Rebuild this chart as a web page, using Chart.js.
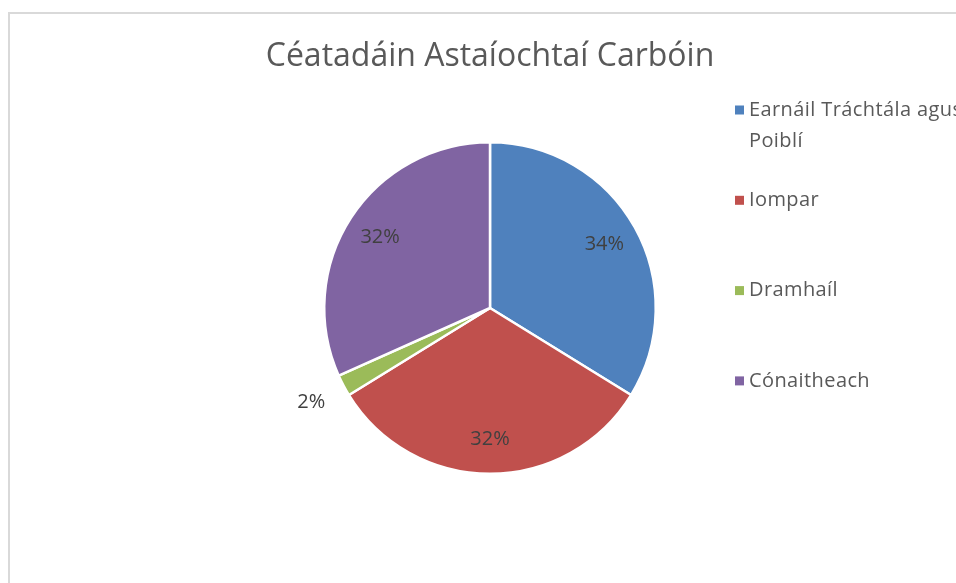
<!DOCTYPE html>
<html>
<head>
<meta charset="utf-8">
<script src="https://cdn.jsdelivr.net/npm/chart.js@4"></script>
<style>
  html, body { margin: 0; padding: 0; background: #fff; overflow: hidden; }
  #wrap { position: relative; width: 956px; height: 583px; }
  #frame { position: absolute; left: 8px; top: 12px; width: 960px; height: 600px;
           border-top: 2px solid #d9d9d9; border-left: 2px solid #d9d9d9; }
  canvas { position: absolute; left: 0; top: 0; }
</style>
</head>
<body>
<div id="wrap">
  <div id="frame"></div>
  <canvas id="myChart" width="956" height="583"></canvas>
</div>
<script>
var chartTitle = 'Céatadáin Astaíochtaí Carbóin';
var categories = ['Earnáil Tráchtála agus Poiblí', 'Iompar', 'Dramhaíl', 'Cónaitheach'];
var shares = [33.8, 32.4, 2.1, 31.7];
var colours = ['#4F81BD', '#C0504D', '#9BBB59', '#8064A2'];

// percent labels on the slices (small ones go outside)
var pctLabels = {
  id: 'pctLabels',
  afterDatasetsDraw: function (chart) {
    var ctx = chart.ctx;
    var meta = chart.getDatasetMeta(0);
    var total = shares.reduce(function (a, b) { return a + b; }, 0);
    ctx.save();
    ctx.font = '20px "Open Sans"';
    ctx.fillStyle = '#404040';
    ctx.textAlign = 'center';
    ctx.textBaseline = 'middle';
    meta.data.forEach(function (arc, i) {
      var p = arc.getProps(['x', 'y', 'startAngle', 'endAngle', 'outerRadius'], true);
      var mid = (p.startAngle + p.endAngle) / 2;
      var pct = shares[i] / total * 100;
      var r = pct < 5 ? p.outerRadius * 1.22 : p.outerRadius * 0.79;
      ctx.fillText(Math.round(pct) + '%', p.x + Math.cos(mid) * r, p.y + Math.sin(mid) * r);
    });
    ctx.restore();
  }
};

// title drawn by hand so it is not squeezed to the pie's width
var topTitle = {
  id: 'topTitle',
  afterDraw: function (chart) {
    var ctx = chart.ctx;
    ctx.save();
    ctx.font = '32px "Open Sans"';
    ctx.fillStyle = '#595959';
    ctx.textAlign = 'center';
    ctx.textBaseline = 'middle';
    ctx.fillText(chartTitle, 490, 57);
    ctx.restore();
  }
};

// legend on the right, wraps long names like the original
var sideLegend = {
  id: 'sideLegend',
  afterDraw: function (chart) {
    var ctx = chart.ctx;
    var x = 735, y = 110, step = 90.3, lineH = 31, maxW = 240;
    ctx.save();
    ctx.font = '20px "Open Sans"';
    ctx.letterSpacing = '0.4px';
    ctx.textBaseline = 'middle';
    ctx.textAlign = 'left';
    chart.data.labels.forEach(function (name, i) {
      var words = name.split(' ');
      var lines = [], cur = '';
      words.forEach(function (w) {
        var test = cur ? cur + ' ' + w : w;
        if (cur && ctx.measureText(test).width > maxW) { lines.push(cur); cur = w; }
        else cur = test;
      });
      lines.push(cur);
      var yy = y + i * step;
      ctx.fillStyle = colours[i];
      ctx.fillRect(x, yy - 4.5, 9, 9);
      ctx.fillStyle = '#595959';
      lines.forEach(function (l, k) {
        ctx.fillText(l, x + 14, yy + k * lineH);
      });
    });
    ctx.restore();
  }
};

var ctx = document.getElementById('myChart').getContext('2d');
var chart = new Chart(ctx, {
  type: 'pie',
  data: {
    labels: categories,
    datasets: [{
      data: shares,
      backgroundColor: colours,
      borderColor: '#ffffff',
      borderWidth: 2.5
    }]
  },
  options: {
    responsive: false,
    animation: false,
    devicePixelRatio: 1,
    layout: { padding: { left: 300, right: 276, top: 141, bottom: 108 } },
    plugins: {
      legend: { display: false },
      tooltip: { enabled: false },
      title: { display: false }
    }
  },
  plugins: [pctLabels, topTitle, sideLegend]
});
</script>
</body>
</html>
